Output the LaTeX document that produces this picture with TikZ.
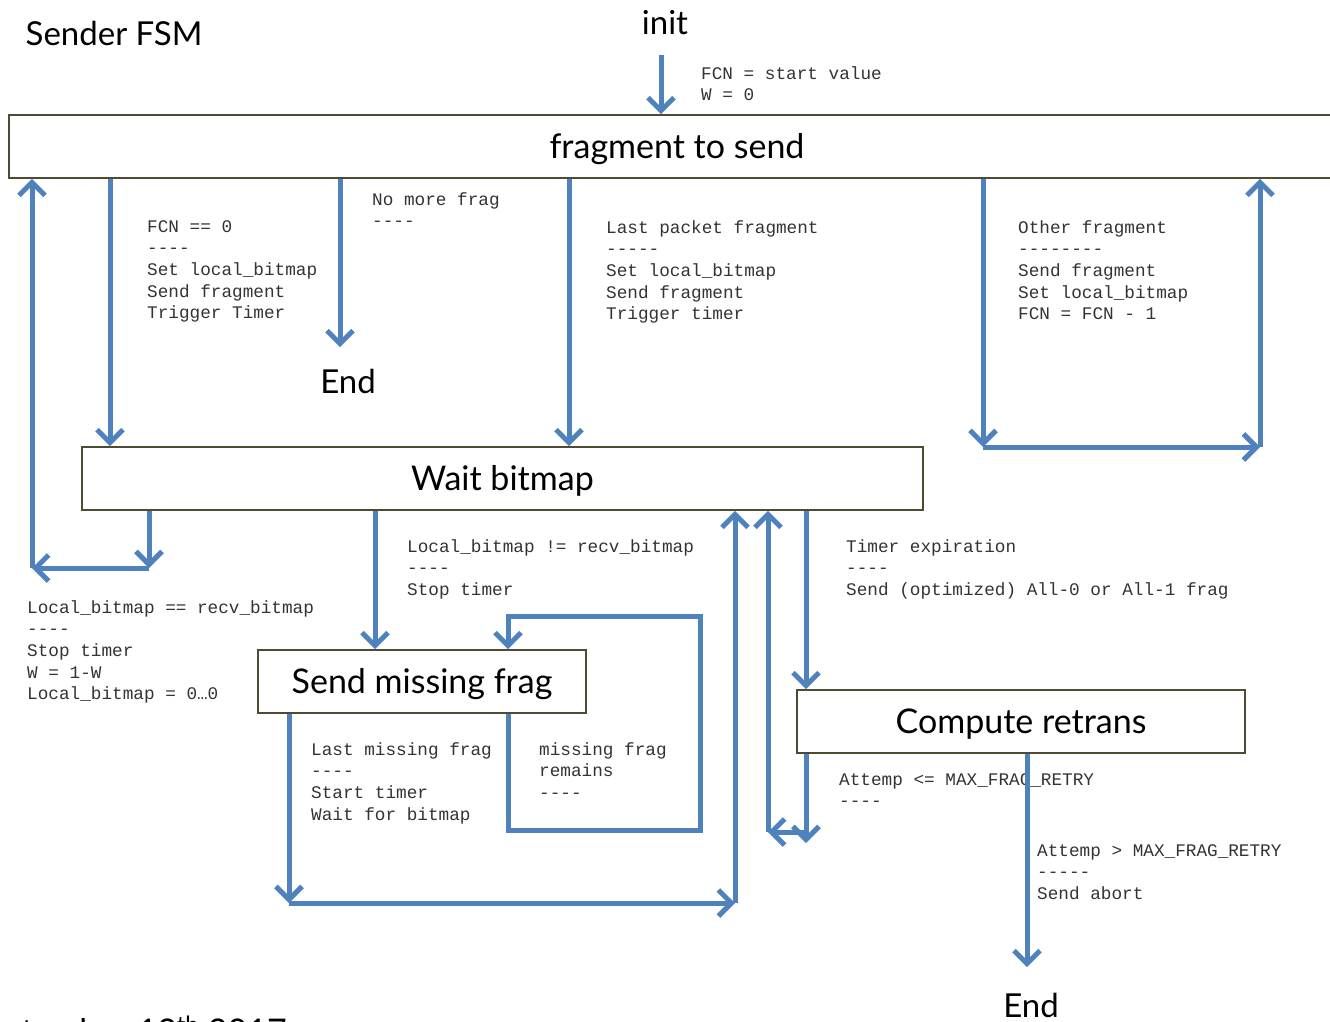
\documentclass[tikz,border=0pt]{standalone}
\usepackage{fontspec}
\setmainfont{Lato}
\setmonofont{Liberation Mono}
\usetikzlibrary{arrows.meta, positioning, calc}
\definecolor{arrowblue}{HTML}{4F81BD}
\definecolor{boxline}{HTML}{4F4B33}

\begin{document}
\begin{tikzpicture}[x=1pt,y=-1pt,
    flow/.style={draw=arrowblue, line width=5pt, -{Straight Barb[length=13pt,width=26pt]}},
    state/.style={draw=boxline, line width=1.8pt, fill=white, minimum height=63pt,
                  inner sep=0pt, text height=26pt, text depth=3pt,
                  font=\fontsize{34}{40}\selectfont},
    lbl/.style={anchor=north west, align=left, inner sep=0pt,
                font=\ttfamily\fontsize{17.7}{21.7}\selectfont, text=black!80},
    title/.style={font=\fontsize{33}{40}\selectfont}]
  \useasboundingbox (0,0) rectangle (1330,1021);

  % states
  \node [state, minimum width=1336pt] at (677,146.5) (frag) {fragment to send};
  \node [state, minimum width=841pt] at (502.5,478.5) (wait) {Wait bitmap};
  \node [state, minimum width=328pt] at (422,681.5) (sendm) {Send missing frag};
  \node [state, minimum width=448pt] at (1021,721.5) (comp) {Compute retrans};

  \node [title] at (114,33) (fsm) {Sender FSM};
  \node [title] at (665,23) (init) {init};
  \node [title] at (348,381) (end1) {End};
  \node [title] at (1031,1005) (end2) {End};
  \node [font=\fontsize{34}{40}\selectfont, anchor=base east, inner sep=0pt]
        at (287,1043) (date) {September 12\textsuperscript{th} 2017};

  % transition labels
  \node [lbl] at (701,66) (linit) {FCN = start value\\W = 0};
  \node [lbl] at (147,220) (lfcn) {FCN == 0\\----\\Set local\_bitmap\\Send fragment\\Trigger Timer};
  \node [lbl] at (372,192) (lnomore) {No more frag\\----};
  \node [lbl] at (606,220) (llast) {Last packet fragment\\-----\\Set local\_bitmap\\Send fragment\\Trigger timer};
  \node [lbl] at (1018,220) (lother) {Other fragment\\--------\\Send fragment\\Set local\_bitmap\\FCN = FCN - 1};
  \node [lbl] at (27,600) (leq) {Local\_bitmap == recv\_bitmap\\----\\Stop timer\\W = 1-W\\Local\_bitmap = 0…0};
  \node [lbl] at (407,539) (lneq) {Local\_bitmap != recv\_bitmap\\----\\Stop timer};
  \node [lbl] at (846,539) (ltimer) {Timer expiration\\----\\Send (optimized) All-0 or All-1 frag};
  \node [lbl] at (311,742) (llastm) {Last missing frag\\----\\Start timer\\Wait for bitmap};
  \node [lbl] at (539,742) (lremain) {missing frag\\remains\\----};
  \node [lbl] at (839,773) (lretry) {Attemp <= MAX\_FRAG\_RETRY\\----};
  \node [lbl] at (1037,844) (labort) {Attemp > MAX\_FRAG\_RETRY\\-----\\Send abort};

  % columns and corners
  \coordinate (xa) at (32,0);
  \coordinate (xb) at (110,0);
  \coordinate (xc) at (149,0);
  \coordinate (xd) at (340,0);
  \coordinate (xe) at (569,0);
  \coordinate (xf) at (983,0);
  \coordinate (xg) at (1260,0);
  \coordinate (xh) at (375,0);
  \coordinate (xi) at (508,0);
  \coordinate (xk) at (289,0);
  \coordinate (xl) at (735,0);
  \coordinate (xm) at (768,0);
  \coordinate (xn) at (806,0);
  \coordinate (xo) at (1027,0);
  \coordinate (xp) at (661,0);
  \coordinate (start) at (661,55);
  \coordinate (c1) at (149,568);
  \coordinate (c2) at (32,568);
  \coordinate (c3) at (983,447);
  \coordinate (c4) at (1260,447);
  \coordinate (c5) at (508,830);
  \coordinate (c6) at (700,830);
  \coordinate (c7) at (700,616);
  \coordinate (c8) at (508,616);
  \coordinate (c9) at (289,903);
  \coordinate (c10) at (735,903);
  \coordinate (c11) at (806,843);
  \coordinate (c12) at (806,832);
  \coordinate (c13) at (768,832);

  % transitions
  \draw [flow] (start) -- (frag.north -| xp);
  \draw [flow] (frag.south -| xb) -- (wait.north -| xb);
  \draw [flow, shorten >=18pt] (frag.south -| xd) -- (end1.north -| xd);
  \draw [flow] (frag.south -| xe) -- (wait.north -| xe);
  \draw [flow] (frag.south -| xf) -- (c3);
  \draw [flow] (c3) -- (c4);
  \draw [flow] (c4) -- (frag.south -| xg);
  \draw [flow] (wait.south -| xc) -- (c1);
  \draw [flow] (c1) -- (c2);
  \draw [flow] (c2) -- (frag.south -| xa);
  \draw [flow] (wait.south -| xh) -- (sendm.north -| xh);
  \draw [flow] (sendm.south -| xi) -- (c5) -- (c6) -- (c7) -- (c8) -- (sendm.north -| xi);
  \draw [flow] (sendm.south -| xk) -- (c9);
  \draw [flow] (c9) -- (c10);
  \draw [flow] (c10) -- (wait.south -| xl);
  \draw [flow] (wait.south -| xn) -- (comp.north -| xn);
  \draw [flow] (comp.south -| xn) -- (c11);
  \draw [flow] (c12) -- (c13);
  \draw [flow] (c13) -- (wait.south -| xm);
  \draw [flow, shorten >=22pt] (comp.south -| xo) -- (end2.north -| xo);
\end{tikzpicture}
\end{document}
